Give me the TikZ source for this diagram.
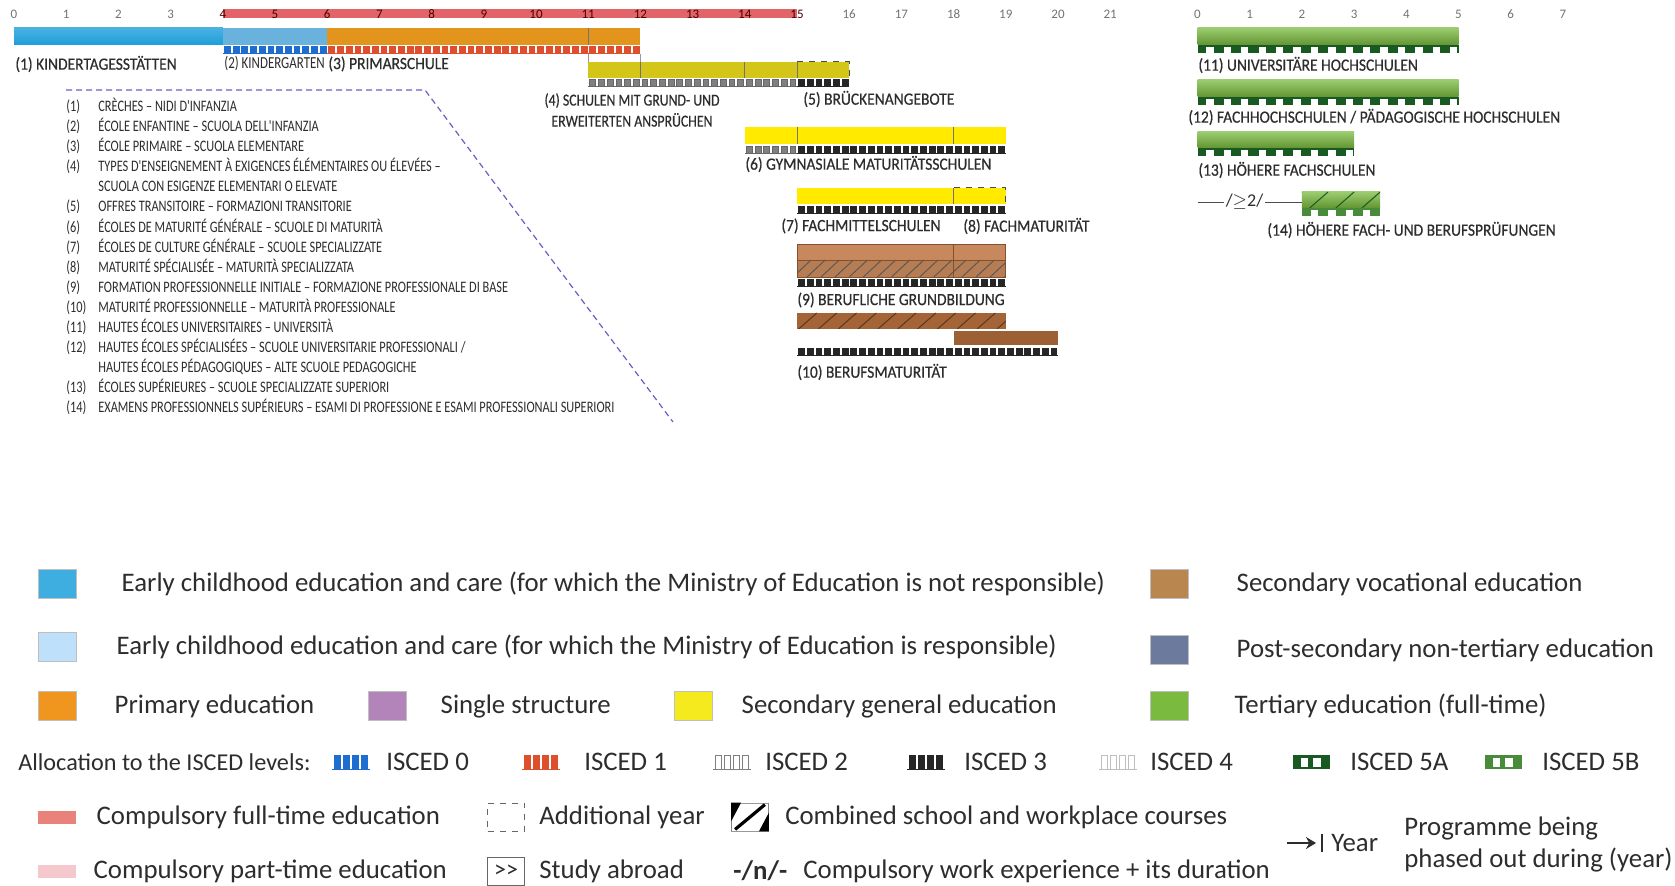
\documentclass[tikz,border=0pt]{standalone}
\usepackage{fontspec}
\setmainfont{Carlito}
\newfontfamily\labfont[FakeStretch=0.9,FakeBold=0.5]{Carlito}
\newfontfamily\midfont[FakeStretch=0.82,FakeBold=0.4]{Carlito}
\newfontfamily\listfont[FakeStretch=0.77]{Carlito}
\usetikzlibrary{positioning}
\usetikzlibrary{arrows.meta}

\definecolor{ecblue}{RGB}{28,158,218}
\definecolor{ecsky}{RGB}{190,224,250}
\definecolor{kgblue}{RGB}{105,178,222}
\definecolor{primorange}{RGB}{226,148,28}
\definecolor{legorange}{RGB}{240,150,30}
\definecolor{singlepurple}{RGB}{178,132,186}
\definecolor{genyellow}{RGB}{255,234,0}
\definecolor{legyellow}{RGB}{245,234,30}
\definecolor{oliveyellow}{RGB}{212,198,24}
\definecolor{vocbrown}{RGB}{184,134,78}
\definecolor{barbrown}{RGB}{198,136,92}
\definecolor{darkbrown}{RGB}{165,100,55}
\definecolor{postslate}{RGB}{108,122,158}
\definecolor{tertgreen}{RGB}{122,186,62}
\definecolor{deepgreen}{RGB}{25,90,35}
\definecolor{midgreen}{RGB}{72,140,58}
\definecolor{compred}{RGB}{226,100,104}
\definecolor{legred}{RGB}{232,130,122}
\definecolor{partpink}{RGB}{245,200,205}
\definecolor{iscblue}{RGB}{30,110,210}
\definecolor{iscred}{RGB}{222,80,45}
\definecolor{dashpurple}{RGB}{105,95,200}
\definecolor{inkgrey}{RGB}{45,45,45}

\newcommand\iscedrow[5]{%
  \pgfmathtruncatemacro\nstripe{round((#2-#1)*6)-1}
  \foreach \k in {0,...,\nstripe}
    \filldraw[fill=#4,draw=#5,line width=0.3pt] ({#1+\k/6+0.03},#3) rectangle ({#1+\k/6+0.14},{#3+7});
  \draw[#5,line width=0.4pt] (#1,{#3+7}) -- (#2,{#3+7});}
\newcommand\tertrow[4]{%
  \fill[#4] (#1,#3) rectangle (#2,{#3+8});
  \pgfmathtruncatemacro\nsquare{round((#2-#1)*3)-1}
  \foreach \k in {0,...,\nsquare}
    \fill[white] ({#1+\k/3+0.17},{#3+2}) rectangle ({#1+\k/3+0.31},{#3+8});}
\newcommand\hatchbox[6]{%
  \begin{scope}
    \clip (#1,#3) rectangle (#2,#4);
    \foreach \k in {0,...,24}
      \draw[#5,line width=0.5pt] ({#1-0.35+\k*#6},#4) -- ({#1+\k*#6},#3);
  \end{scope}}

\begin{document}
\begin{tikzpicture}[x=0.5pt,y=-0.5pt,
  lab/.style={font=\labfont\fontsize{8.6}{9}\selectfont,text=inkgrey,inner sep=0pt},
  nlab/.style={font=\midfont\fontsize{8.4}{10.5}\selectfont,text=inkgrey,inner sep=0pt},
  age/.style={font=\fontsize{6.5}{7}\selectfont,text=black!55,inner sep=0pt},
  div/.style={draw=black!55,line width=0.35pt},
  swatch/.style={draw=black!25,line width=0.3pt,minimum width=19pt,minimum height=14.5pt,inner sep=0pt},
  thinswatch/.style={swatch,minimum height=6.5pt,draw=none},
  keybox/.style={minimum width=18.5pt,minimum height=14pt,inner sep=0pt},
  key/.style={font=\fontsize{13.4}{15}\selectfont,text=inkgrey,inner sep=0pt}]

\useasboundingbox (0,0) rectangle (1675,886);
\fill[white] (0,0) rectangle (1675,886);

\begin{scope}[shift={(14,0)},x=26.1pt]
  \fill[compred] (4,9) rectangle (15,18);
  \foreach \a in {0,...,3} \node[age] at (\a,14) {\a};
  \foreach \a in {16,...,21} \node[age] at (\a,14) {\a};
  \foreach \a in {4,...,15} \node[age,text=red!30!black] at (\a,14) {\a};
  \shade[top color=ecblue!80!white,bottom color=ecblue] (0,28) rectangle (4,45);
  \fill[kgblue] (4,28) rectangle (6,45);
  \fill[primorange] (6,28) rectangle (12,45);
  \draw[div] (11,28) -- (11,45);
  \iscedrow{4}{6}{46}{iscblue}{iscblue}
  \iscedrow{6}{12}{46}{iscred}{iscred}
  \draw[black!40,line width=0.35pt] (11,54) -- (11,62) (12,54) -- (12,62);
  \fill[oliveyellow] (11,62) rectangle (16,78);
  \draw[div] (12,62) -- (12,78) (14,62) -- (14,78) (15,62) -- (15,78);
  \draw[black!70,dashed,line width=0.5pt] (15,62) -- (16,62) -- (16,78);
  \iscedrow{11}{15}{79}{black!50}{black!60}
  \iscedrow{15}{16}{79}{black!85}{black!85}
  \fill[genyellow] (14,127) rectangle (19,144);
  \draw[div] (15,127) -- (15,144) (18,127) -- (18,144);
  \iscedrow{14}{15}{146}{black!50}{black!60}
  \iscedrow{15}{19}{146}{black!85}{black!85}
  \fill[genyellow] (15,188) rectangle (19,204);
  \draw[div] (18,188) -- (18,204);
  \draw[black!70,dashed,line width=0.5pt] (18,188) -- (19,188) -- (19,204);
  \iscedrow{15}{19}{206}{black!85}{black!85}
  \fill[barbrown] (15,244) rectangle (19,260);
  \fill[barbrown!92!black] (15,260) rectangle (19,277);
  \hatchbox{15}{19}{260}{277}{black!65}{0.27}
  \draw[darkbrown!80!black,line width=0.4pt] (15,244) rectangle (19,277) (15,260) -- (19,260) (18,244) -- (18,277);
  \iscedrow{15}{19}{279}{black!85}{black!85}
  \fill[darkbrown] (15,313) rectangle (19,329);
  \hatchbox{15}{19}{313}{329}{darkbrown!55!black}{0.38}
  \fill[darkbrown!95!black] (18,331) rectangle (20,345);
  \iscedrow{15}{20}{348}{black!85}{black!85}
\end{scope}

\node[lab,anchor=west] (lab_1) at (15,64) {(1) KINDERTAGESSTÄTTEN};
\node[nlab,font=\listfont\fontsize{8.4}{10.5}\selectfont,anchor=west] (lab_2) at (224,64) {(2) KINDERGARTEN};
\node[lab,anchor=west] (lab_3) at (328,64) {(3) PRIMARSCHULE};
\node[nlab,align=center] (lab_4) at (632,110) {(4) SCHULEN MIT GRUND- UND\\ERWEITERTEN ANSPRÜCHEN};
\node[lab,anchor=west] (lab_5) at (803,99) {(5) BRÜCKENANGEBOTE};
\node[lab,anchor=west] (lab_6) at (745,164) {(6) GYMNASIALE MATURITÄTSSCHULEN};
\node[lab,anchor=west] (lab_7) at (781,226) {(7) FACHMITTELSCHULEN};
\node[lab,anchor=west] (lab_8) at (963,226) {(8) FACHMATURITÄT};
\node[lab,anchor=west] (lab_9) at (797,300) {(9) BERUFLICHE GRUNDBILDUNG};
\node[lab,anchor=west] (lab_10) at (797,372) {(10) BERUFSMATURITÄT};

\coordinate (dash_a) at (66,90);
\coordinate (dash_b) at (425,90);
\coordinate (dash_c) at (673,422);
\draw[dashpurple,line width=0.6pt,dash pattern=on 3pt off 2pt] (dash_a) -- (dash_b) -- (dash_c);

\node[anchor=north west,inner sep=0pt,font=\listfont\fontsize{8}{10.05}\selectfont,text=inkgrey] (notes) at (66,97) {%
  \begin{tabular}{@{}p{16pt}@{}l@{}}
  (1) & CRÈCHES – NIDI D'INFANZIA\\
  (2) & ÉCOLE ENFANTINE – SCUOLA DELL'INFANZIA\\
  (3) & ÉCOLE PRIMAIRE – SCUOLA ELEMENTARE\\
  (4) & TYPES D'ENSEIGNEMENT À EXIGENCES ÉLÉMENTAIRES OU ÉLEVÉES –\\
      & SCUOLA CON ESIGENZE ELEMENTARI O ELEVATE\\
  (5) & OFFRES TRANSITOIRE – FORMAZIONI TRANSITORIE\\
  (6) & ÉCOLES DE MATURITÉ GÉNÉRALE – SCUOLE DI MATURITÀ\\
  (7) & ÉCOLES DE CULTURE GÉNÉRALE – SCUOLE SPECIALIZZATE\\
  (8) & MATURITÉ SPÉCIALISÉE – MATURITÀ SPECIALIZZATA\\
  (9) & FORMATION PROFESSIONNELLE INITIALE – FORMAZIONE PROFESSIONALE DI BASE\\
  (10) & MATURITÉ PROFESSIONNELLE – MATURITÀ PROFESSIONALE\\
  (11) & HAUTES ÉCOLES UNIVERSITAIRES – UNIVERSITÀ\\
  (12) & HAUTES ÉCOLES SPÉCIALISÉES – SCUOLE UNIVERSITARIE PROFESSIONALI /\\
       & HAUTES ÉCOLES PÉDAGOGIQUES – ALTE SCUOLE PEDAGOGICHE\\
  (13) & ÉCOLES SUPÉRIEURES – SCUOLE SPECIALIZZATE SUPERIORI\\
  (14) & EXAMENS PROFESSIONNELS SUPÉRIEURS – ESAMI DI PROFESSIONE E ESAMI PROFESSIONALI SUPERIORI
  \end{tabular}};

\begin{scope}[shift={(1197.5,0)},x=26.1pt]
  \foreach \a in {0,...,7} \node[age] at (\a,14) {\a};
  \shade[top color=tertgreen!75!white,bottom color=tertgreen!80!black] (0,28) rectangle (5,45);
  \tertrow{0}{5}{45}{deepgreen}
  \shade[top color=tertgreen!75!white,bottom color=tertgreen!80!black] (0,80) rectangle (5,97);
  \tertrow{0}{5}{97}{deepgreen}
  \shade[top color=tertgreen!75!white,bottom color=tertgreen!80!black] (0,132) rectangle (3,148);
  \tertrow{0}{3}{148}{deepgreen}
  \shade[top color=tertgreen!75!white,bottom color=tertgreen!80!black] (2,192) rectangle (3.5,208);
  \hatchbox{2}{3.5}{192}{208}{deepgreen}{0.5}
  \tertrow{2}{3.5}{208}{midgreen}
  \coordinate (work_a) at (0,202);
  \coordinate (work_b) at (2,202);
  \draw[black!70,line width=0.4pt] (work_a) -- node[fill=white,inner sep=1pt,pos=0.45,font=\fontsize{9}{10}\selectfont,text=inkgrey] (work_n) {/$\geq$2/} (work_b);
\end{scope}

\node[lab,anchor=west] (lab_11) at (1198,65) {(11) UNIVERSITÄRE HOCHSCHULEN};
\node[lab,anchor=west] (lab_12) at (1188,117) {(12) FACHHOCHSCHULEN / PÄDAGOGISCHE HOCHSCHULEN};
\node[lab,anchor=west] (lab_13) at (1198,170) {(13) HÖHERE FACHSCHULEN};
\node[lab,anchor=west] (lab_14) at (1267,230) {(14) HÖHERE FACH- UND BERUFSPRÜFUNGEN};

\node[swatch,fill=ecblue!85!white] (sw_ec) at (57,584) {};
\node[key,right=22.5pt of sw_ec] (key_ec) {Early childhood education and care (for which the Ministry of Education is not responsible)};
\node[swatch,fill=vocbrown] (sw_voc) at (1169,584) {};
\node[key,right=24pt of sw_voc] (key_voc) {Secondary vocational education};
\node[swatch,fill=ecsky] (sw_eci) at (57,647) {};
\node[key,right=20pt of sw_eci] (key_eci) {Early childhood education and care (for which the Ministry of Education is responsible)};
\node[swatch,fill=postslate] (sw_post) at (1169,650) {};
\node[key,right=24pt of sw_post] (key_post) {Post-secondary non-tertiary education};
\node[swatch,fill=legorange] (sw_prim) at (57,706) {};
\node[key,right=19pt of sw_prim] (key_prim) {Primary education};
\node[swatch,fill=singlepurple] (sw_single) at (387,706) {};
\node[key,right=17pt of sw_single] (key_single) {Single structure};
\node[swatch,fill=legyellow] (sw_gen) at (693,706) {};
\node[key,right=14.5pt of sw_gen] (key_gen) {Secondary general education};
\node[swatch,fill=tertgreen] (sw_tert) at (1169,706) {};
\node[key,right=23pt of sw_tert] (key_tert) {Tertiary education (full-time)};

\node[key,anchor=west,font=\fontsize{12.1}{14}\selectfont] (key_alloc) at (18,762) {Allocation to the ISCED levels:};
\foreach \n/\xc/\f/\d/\gap in {0/351/iscblue/iscblue/8pt, 1/541/iscred/iscred/12pt, 2/732/white/black!50/7pt, 3/926/black!85/black!85/9.5pt, 4/1118/white/black!25/6.5pt}{
  \node[keybox,minimum height=7pt] (ic_\n) at (\xc,762) {};
  \foreach \k in {0,...,3}
    \filldraw[fill=\f,draw=\d,line width=0.3pt] ([xshift=\k*4.6pt+1pt]ic_\n.south west) rectangle +(3pt,7pt);
  \draw[\d,line width=0.4pt] (ic_\n.south west) -- (ic_\n.south east);
  \node[key,right=\gap of ic_\n] (key_isc\n) {ISCED \n};
}
\foreach \n/\xc/\f/\gap in {5A/1311/deepgreen/10pt, 5B/1503/midgreen/10pt}{
  \node[keybox,minimum height=7pt,fill=\f] (ic_\n) at (\xc,762) {};
  \foreach \k in {1,2}
    \fill[white] ([xshift=\k*6.2pt-1.8pt,yshift=1pt]ic_\n.south west) rectangle +(3.6pt,4.5pt);
  \node[key,right=\gap of ic_\n] (key_isc\n) {ISCED \n};
}

\node[thinswatch,fill=legred] (sw_full) at (57,817) {};
\node[key,right=10pt of sw_full] (key_full) {Compulsory full-time education};
\node[keybox,draw=black!60,dashed,line width=0.5pt] (sw_add) at (506,817) {};
\node[key,right=7pt of sw_add] (key_add) {Additional year};
\node[keybox,draw=black!40,line width=0.4pt] (sw_comb) at (750,817) {};
\fill[black] (sw_comb.north west) -- ([xshift=5pt]sw_comb.north west) -- ([yshift=5pt]sw_comb.south west) -- (sw_comb.south west) -- cycle;
\fill[black] (sw_comb.south east) -- ([xshift=-5pt]sw_comb.south east) -- ([yshift=-5pt]sw_comb.north east) -- (sw_comb.north east) -- cycle;
\draw[black,line width=1.6pt] ([xshift=2pt,yshift=1pt]sw_comb.south west) -- ([xshift=-2pt,yshift=-1pt]sw_comb.north east);
\node[key,right=8pt of sw_comb] (key_comb) {Combined school and workplace courses};

\node[thinswatch,fill=partpink] (sw_part) at (57,871) {};
\node[key,right=8.5pt of sw_part] (key_part) {Compulsory part-time education};
\node[keybox,draw=black!60,line width=0.5pt,font=\fontsize{12}{13}\selectfont,text=inkgrey] (sw_abr) at (506,871) {>{}>};
\node[key,right=7pt of sw_abr] (key_abr) {Study abroad};
\node[key,anchor=west] (sw_work) at (733,871) {\textbf{-/n/-}};
\node[key,anchor=west] (key_work) at (803,871) {Compulsory work experience + its duration};

\coordinate (year_a) at (1287,843);
\coordinate (year_b) at (1316,843);
\draw[inkgrey,line width=1.4pt,-{Stealth[length=5pt,width=6pt]}] (year_a) -- (year_b);
\draw[inkgrey,line width=1.4pt] (1322,834) -- (1322,852);
\node[key,anchor=west] (key_year) at (1331,843) {Year};
\node[key,anchor=west,align=left,font=\fontsize{13.4}{16}\selectfont] (key_phase) at (1404,844) {Programme being\\phased out during (year)};
\end{tikzpicture}
\end{document}
